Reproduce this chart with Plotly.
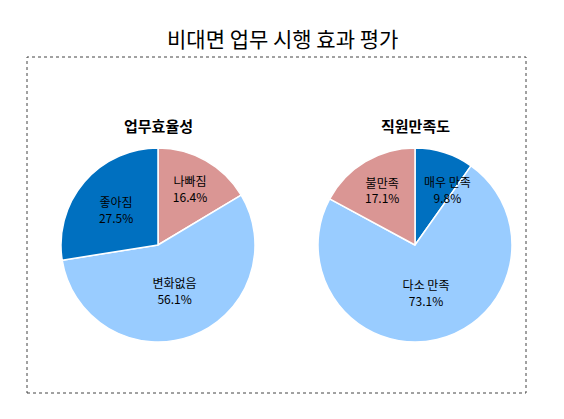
import plotly.graph_objects as go

labels1 = ["나빠짐", "변화없음", "좋아짐"]
values1 = [16.4, 56.1, 27.5]
labels2 = ["매우 만족", "다소 만족", "불만족"]
values2 = [9.8, 73.1, 17.1]
colors1 = ["#DA9694", "#99CCFF", "#0070C0"]
colors2 = ["#0070C0", "#99CCFF", "#DA9694"]

W, H = 564, 419
OFF = 8  # page body margin
font = "Noto Sans CJK KR"

def px(x):
    return (x - OFF) / W

def py(y):
    return 1 - (y - OFF) / H

def dom(cx, cy, r):
    return dict(x=[px(cx - r), px(cx + r)], y=[py(cy + r), py(cy - r)])

fig = go.Figure()
fig.add_trace(go.Pie(labels=labels1, values=values1, sort=False, direction="clockwise", rotation=0,
                     marker=dict(colors=colors1, line=dict(color="white", width=1.5)),
                     texttemplate="%{label}<br>%{value:.1f}%", textposition="inside",
                     insidetextorientation="horizontal",
                     textfont=dict(color="black", size=12, family=font),
                     domain=dom(158, 245, 97), showlegend=False, hoverinfo="skip"))
fig.add_trace(go.Pie(labels=labels2, values=values2, sort=False, direction="clockwise", rotation=0,
                     marker=dict(colors=colors2, line=dict(color="white", width=1.5)),
                     texttemplate=["", "%{label}<br>%{value:.1f}%", "%{label}<br>%{value:.1f}%"],
                     textposition="inside", insidetextorientation="horizontal",
                     textfont=dict(color="black", size=12, family=font),
                     domain=dom(415, 245, 97), showlegend=False, hoverinfo="skip"))

ann = [
    dict(text="비대면 업무 시행 효과 평가", x=px(282), y=py(38), size=21),
    dict(text="<b>업무효율성</b>", x=px(158), y=py(125), size=15),
    dict(text="<b>직원만족도</b>", x=px(415), y=py(125), size=15),
    dict(text=f"{labels2[0]}<br>{values2[0]:.1f}%", x=px(447), y=py(189), size=12),
]
fig.update_layout(
    width=W, height=H, margin=dict(l=0, r=0, t=0, b=0),
    paper_bgcolor="white", font=dict(family=font),
    shapes=[dict(type="rect", xref="paper", yref="paper",
                 x0=px(27), x1=px(526), y0=py(393), y1=py(57),
                 line=dict(color="#444", width=1, dash="dot"))],
    annotations=[dict(text=a["text"], x=a["x"], y=a["y"], xref="paper", yref="paper",
                      xanchor="center", yanchor="middle", showarrow=False,
                      font=dict(size=a["size"], color="black", family=font)) for a in ann],
)
fig.write_html("out.html")
